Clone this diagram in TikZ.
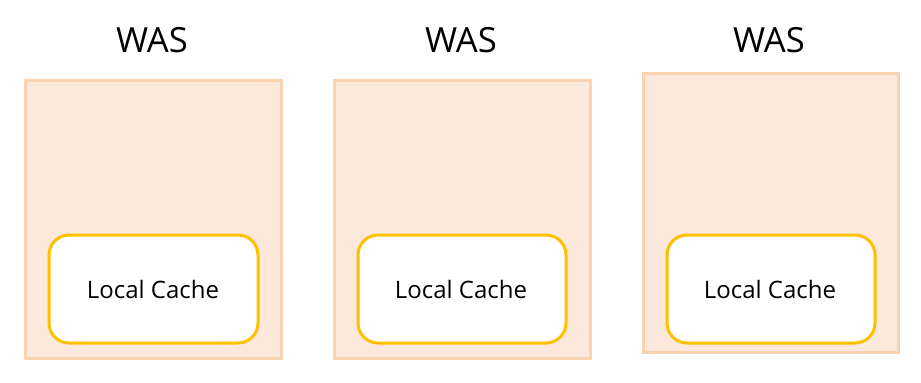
\documentclass[tikz,border=0pt]{standalone}
\usepackage{fontspec}
\setmainfont{Open Sans}
\definecolor{peachfill}{HTML}{FCE9DB}
\definecolor{peachline}{HTML}{F9D2B0}
\definecolor{gold}{HTML}{FFC000}
\begin{document}
\begin{tikzpicture}[x=0.75pt,y=-0.75pt,
  wasbox/.style={draw=peachline,fill=peachfill,line width=2.25pt},
  cachebox/.style={draw=gold,fill=white,line width=2.25pt,rounded corners=15pt},
  waslabel/.style={font=\fontsize{26}{30}\selectfont,anchor=base},
  cachelabel/.style={font=\fontsize{18}{21}\selectfont}]
\useasboundingbox (0,0) rectangle (921,382);
% box 1
\draw[wasbox] (25,80) rectangle (281,358);
\draw[cachebox] (49,235) rectangle (258,343);
\node[cachelabel] (c1) at (153,289) {Local Cache};
\node[waslabel] (w1) at (152,52) {WAS};
% box 2
\draw[wasbox] (334,80) rectangle (590,358);
\draw[cachebox] (358,235) rectangle (566,343);
\node[cachelabel] (c2) at (461,289) {Local Cache};
\node[waslabel] (w2) at (461,52) {WAS};
% box 3
\draw[wasbox] (643,73) rectangle (898,352);
\draw[cachebox] (667,235) rectangle (875,343);
\node[cachelabel] (c3) at (770,289) {Local Cache};
\node[waslabel] (w3) at (769,52) {WAS};
\end{tikzpicture}
\end{document}
